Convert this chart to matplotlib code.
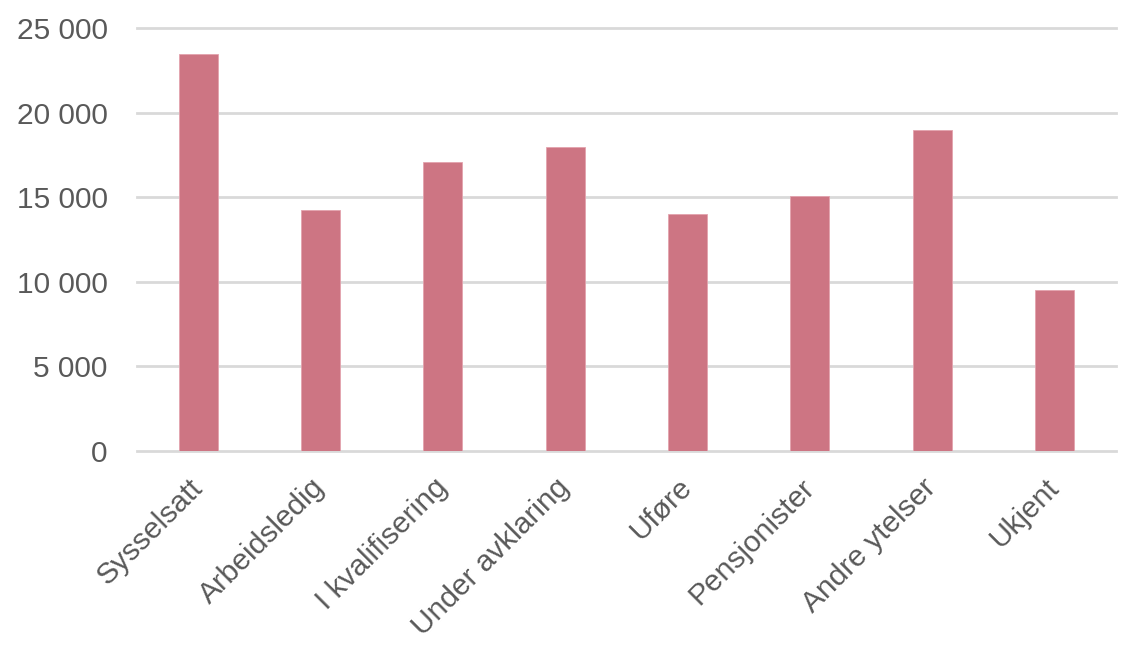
import matplotlib
matplotlib.use("Agg")
import matplotlib.pyplot as plt
import matplotlib.transforms as mtransforms
import numpy as np
from matplotlib.ticker import FuncFormatter, MultipleLocator

# Data
categories = ["Sysselsatt", "Arbeidsledig", "I kvalifisering", "Under avklaring",
              "Uføre", "Pensjonister", "Andre ytelser", "Ukjent"]
values = [23500, 14250, 17100, 18000, 14000, 15100, 19000, 9500]

plt.rcParams['font.family'] = ['Liberation Sans', 'DejaVu Sans']

fig = plt.figure(figsize=(11.35, 6.46), dpi=100)
ax = fig.add_axes([0.1207, 0.3019, 0.8623, 0.6543])

x_pos = np.arange(len(categories))
ax.bar(x_pos, values, width=0.32, color='#CD7583', edgecolor='#E3A3AE',
       linewidth=0.6, zorder=3)

# Axis limits and grid
ax.set_xlim(-0.5, len(categories) - 0.5)
ax.set_ylim(0, 25000)
ax.yaxis.set_major_locator(MultipleLocator(5000))
ax.yaxis.grid(True, color='#D9D9D9', linewidth=2, zorder=0)
ax.set_axisbelow(True)
# keep the lines at 0 and 25 000 fully visible
for gl in ax.get_ygridlines():
    gl.set_clip_on(False)

# thousand separator as space
ax.yaxis.set_major_formatter(FuncFormatter(lambda v, p: f"{int(v):,}".replace(",", " ")))

for side in ['top', 'right', 'left', 'bottom']:
    ax.spines[side].set_visible(False)

ax.tick_params(axis='y', length=0, pad=21, labelsize=21.5, labelcolor='#595959')
ax.tick_params(axis='x', length=0, pad=16, labelsize=21.5, labelcolor='#595959')
ax.set_xticks(x_pos)
ax.set_xticklabels(categories, rotation=45, ha='right', rotation_mode='anchor')

# nudge the rotated labels a little to the left
shift = mtransforms.ScaledTranslation(-0.10, 0, fig.dpi_scale_trans)
for lbl in ax.get_xticklabels():
    lbl.set_transform(lbl.get_transform() + shift)

fig.savefig("out.png", dpi=100)
